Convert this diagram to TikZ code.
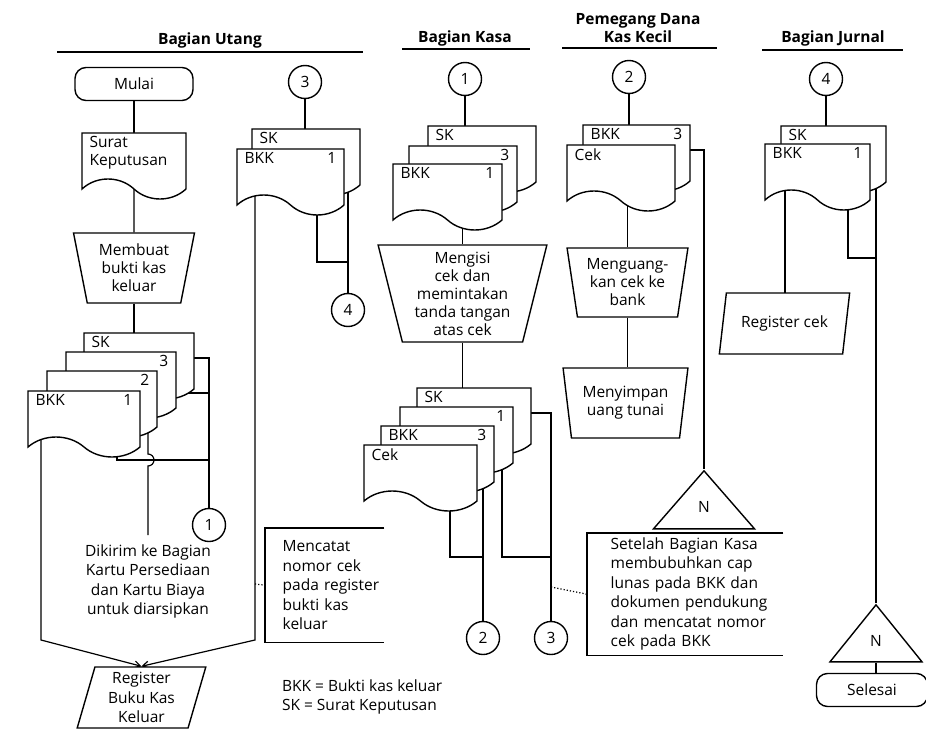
\documentclass[tikz,border=0pt]{standalone}
\usepackage{fontspec}
\setmainfont{Open Sans}
\usepackage{tikz}
\usetikzlibrary{shapes.geometric, shapes.symbols, arrows.meta, backgrounds}

\begin{document}
\begin{tikzpicture}[
    x=1pt, y=-1pt,
    line width=1.4pt,
    every node/.style={font=\fontsize{15.5}{19.5}\selectfont},
    title/.style={font=\bfseries\fontsize{15.5}{18}\selectfont, align=center},
    terminal/.style={rectangle, rounded corners=11pt, draw, fill=white, minimum width=#1, minimum height=33pt},
    terminal/.default=115pt,
    conn/.style={circle, draw, fill=white, minimum size=33pt, inner sep=0pt},
    doc/.style={tape, draw, fill=white, tape bend top=none, tape bend bottom=out and in,
        tape bend height=20pt, minimum width=#1, minimum height=66pt, inner sep=0pt, outer sep=0pt, anchor=north west},
    doct/.style={anchor=north west, inner xsep=7pt, inner ysep=3pt, align=left, font=\fontsize{15.5}{18}\selectfont},
    docr/.style={anchor=north east, inner xsep=7pt, inner ysep=3pt},
    manual/.style={trapezium, shape border rotate=180, trapezium stretches=true, draw, fill=white,
        inner sep=1pt, align=center, font=\fontsize{15.5}{18}\selectfont},
    io/.style={trapezium, trapezium stretches=true, draw, fill=white, inner sep=1pt, align=center},
    offpage/.style={isosceles triangle, shape border rotate=90, isosceles triangle stretches,
        draw, fill=white, inner sep=0pt, anchor=apex},
    anno/.style={anchor=north west, align=left, inner xsep=0pt},
    flow/.style={line width=1.2pt, draw=black},
    arrow/.style={flow, -{Straight Barb[length=6pt, width=7pt]}},
]
    \useasboundingbox (0,0) rectangle (926,746);

    % Lane headers
    \node[title] (tU) at (210,40) {Bagian Utang};
    \node[title] (tK) at (465,38) {Bagian Kasa};
    \node[title] (tP) at (638,28.5) {Pemegang Dana\\Kas Kecil};
    \node[title] (tJ) at (833,38) {Bagian Jurnal};
    \draw (57,52) -- (363,52);
    \draw (402,49) -- (530,49);
    \draw (562,48) -- (717,48);
    \draw (762,50) -- (903,50);

    % Bagian Utang
    \node[terminal=118pt] (startU) at (134,84) {Mulai};
    \node[doc=104pt, label={[doct]north west:Surat\\Keputusan}] (skU) at (82,133) {};
    \node[manual, minimum width=121pt, minimum height=70pt, trapezium angle=78] (mbU) at (134,268) {Membuat\\bukti kas\\keluar};
    \node[doc=110pt, label={[doct]north west:SK}] (skU2) at (84,333) {};
    \node[doc=110pt, label={[docr]north east:3}] (bkkU3) at (66,352) {};
    \node[doc=110pt, label={[docr]north east:2}] (bkkU2) at (47,371) {};
    \node[doc=112pt, label={[doct]north west:BKK}, label={[docr]north east:1}] (bkkU1) at (28,391) {};
    \node[conn] (conU1) at (209,525) {1};
    \coordinate (jU1) at (209,460);
    \node[align=center, anchor=north, inner ysep=9pt] (kirimU) at (148,535) {Dikirim ke Bagian\\Kartu Persediaan\\dan Kartu Biaya\\untuk diarsipkan};
    \node[io, trapezium left angle=76, trapezium right angle=104, minimum width=129pt, minimum height=61pt] (regU) at (141.5,697.5) {Register\\Buku Kas\\Keluar};

    \node[conn] (conU3) at (305,82) {3};
    \node[doc=108pt, label={[doct]north west:SK}] (skU3) at (252,129) {};
    \node[doc=107pt, label={[doct]north west:BKK}, label={[docr]north east:1}] (bkkU4) at (237,149) {};
    \node[conn] (conU4) at (348,310) {4};
    \coordinate (jU4) at (348,262);
    \coordinate (mU) at (255,584);
    \node[anno, text width=101pt, minimum height=113pt] (catatU) at (282,528) {Mencatat\\nomor cek\\pada register\\bukti kas\\keluar};
    \node[anchor=west, align=left] (legend) at (278,697) {BKK = Bukti kas keluar\\SK = Surat Keputusan};

    % Bagian Kasa
    \node[conn] (conK1) at (465,79) {1};
    \node[doc=108pt, label={[doct]north west:SK}] (skK1) at (428,126) {};
    \node[doc=108pt, label={[docr]north east:3}] (bkkK3) at (409,146) {};
    \node[doc=109pt, label={[doct]north west:BKK}, label={[docr]north east:1}] (bkkK1) at (393,164) {};
    \node[manual, minimum width=169pt, minimum height=97pt, trapezium angle=77] (mgK) at (462.5,293.5) {Mengisi\\cek dan\\memintakan\\tanda tangan\\atas cek};
    \node[doc=114pt, label={[doct]north west:SK}] (skK2) at (417,388) {};
    \node[doc=113pt, label={[docr]north east:1}] (bkkK5) at (400,407) {};
    \node[doc=113pt, label={[doct]north west:BKK}, label={[docr]north east:3}] (bkkK4) at (381,426) {};
    \node[doc=113pt, label={[doct]north west:Cek}] (cekK) at (364,445) {};
    \node[conn] (conK2) at (483,638) {2};
    \node[conn] (conK3) at (551,638) {3};
    \coordinate (jK2) at (483,557);
    \coordinate (jK3) at (551,557);
    \coordinate (mK) at (551,587);
    \node[anno, text width=172pt, minimum height=121pt] (catatK) at (610,533) {Setelah Bagian Kasa\\membubuhkan cap\\lunas pada BKK dan\\dokumen pendukung\\dan mencatat nomor\\cek pada BKK};

    % Pemegang Dana Kas Kecil
    \node[conn] (conP2) at (629,77) {2};
    \node[doc=107pt, label={[doct]north west:BKK}, label={[docr]north east:3}] (bkkP) at (583,125) {};
    \node[doc=108pt, label={[doct]north west:Cek}] (cekP) at (567,145) {};
    \node[manual, minimum width=121pt, minimum height=69pt, trapezium angle=80] (mkP) at (627.5,282.5) {Menguang-\\kan cek ke\\bank};
    \node[manual, minimum width=125pt, minimum height=70pt, trapezium angle=79] (msP) at (625.5,403) {Menyimpan\\uang tunai};
    \node[offpage, minimum width=101pt, minimum height=58pt] (offP) at (704,469) {N};

    % Bagian Jurnal
    \node[conn] (conJ4) at (826,79) {4};
    \node[doc=105pt, label={[doct]north west:SK}] (skJ) at (781,126) {};
    \node[doc=105pt, label={[doct]north west:BKK}, label={[docr]north east:1}] (bkkJ) at (765,144) {};
    \coordinate (jJ) at (876,258);
    \node[io, trapezium left angle=73, trapezium right angle=107, minimum width=131pt, minimum height=61pt] (regJ) at (784.5,323.5) {Register cek};
    \node[offpage, minimum width=92pt, minimum height=57pt] (offJ) at (876,603) {N};
    \node[terminal=111pt] (endJ) at (872,690) {Selesai};

    % Flow lines
    \begin{scope}[on background layer]
        \draw[flow] (startU) -- (skU);
        \draw[flow] (skU.south) -- (mbU.north);
        \draw[flow] (mbU.south) -- (mbU.south |- skU2.north);
        \draw[arrow] ([xshift=13pt]bkkU1.north west) -- ++(0,249) -- (regU.north);
        \draw[arrow] ([xshift=18pt]bkkU4.north west) -- ++(0,491) -- (regU.north);
        \draw[flow] ([yshift=-25pt]skU2.north east) -| (conU1.north);
        \draw[flow] ([xshift=89pt]bkkU1.north west) |- (jU1);
        \draw[flow] ([yshift=-41pt]bkkU3.north east) -| (jU1);
        \draw[flow] ([xshift=101pt]bkkU2.north west) -- ++(0,83) arc[start angle=-90, end angle=90, radius=6] -- (kirimU.north);

        \draw[flow] (conU3) -- (conU3 |- skU3.north);
        \draw[flow] ([xshift=80pt]bkkU4.north west) |- (jU4);
        \draw[flow] ([xshift=96pt]skU3.north west) -- (conU4);
        \draw[flow, dotted] (mU) -- ([xshift=-17pt]catatU.west);

        \draw[flow] (conK1) -- (conK1 |- skK1.north);
        \draw[flow] (mgK.north) -- (mgK.north |- bkkK1.center);
        \draw[flow] (mgK.south) -- (mgK.south |- skK2.north);
        \draw[flow] ([yshift=-25pt]skK2.north east) -| (conK3.north);
        \draw[flow] ([xshift=102pt]bkkK5.north west) |- (jK3);
        \draw[flow] ([xshift=102pt]bkkK4.north west) -- (conK2.north);
        \draw[flow] ([xshift=86pt]cekK.north west) |- (jK2);
        \draw[flow, dotted] (mK) -- ([xshift=-23pt]catatK.west);

        \draw[flow] (conP2) -- (conP2 |- bkkP.north);
        \draw[flow] ([yshift=-25pt]bkkP.north east) -| (offP.apex);
        \draw[flow] (mkP.north) -- (mkP.north |- cekP.center);
        \draw[flow] (mkP.south) -- (mkP.south |- msP.north);

        \draw[flow] (conJ4) -- (conJ4 |- skJ.north);
        \draw[flow] ([xshift=20pt]bkkJ.north west) -- ++(0,149);
        \draw[flow] ([xshift=83pt]bkkJ.north west) |- (jJ);
        \draw[flow] ([xshift=95pt]skJ.north west) -- (offJ.apex);
        \draw[flow] (offJ.south) -- (offJ.south |- endJ.north);
    \end{scope}

    % Annotation brackets
    \draw (catatU.north east) -- ([xshift=-17pt]catatU.north west) -- ([xshift=-17pt]catatU.south west) -- (catatU.south east);
    \draw (catatK.north east) -- ([xshift=-23pt]catatK.north west) -- ([xshift=-23pt]catatK.south west) -- (catatK.south east);
\end{tikzpicture}
\end{document}
